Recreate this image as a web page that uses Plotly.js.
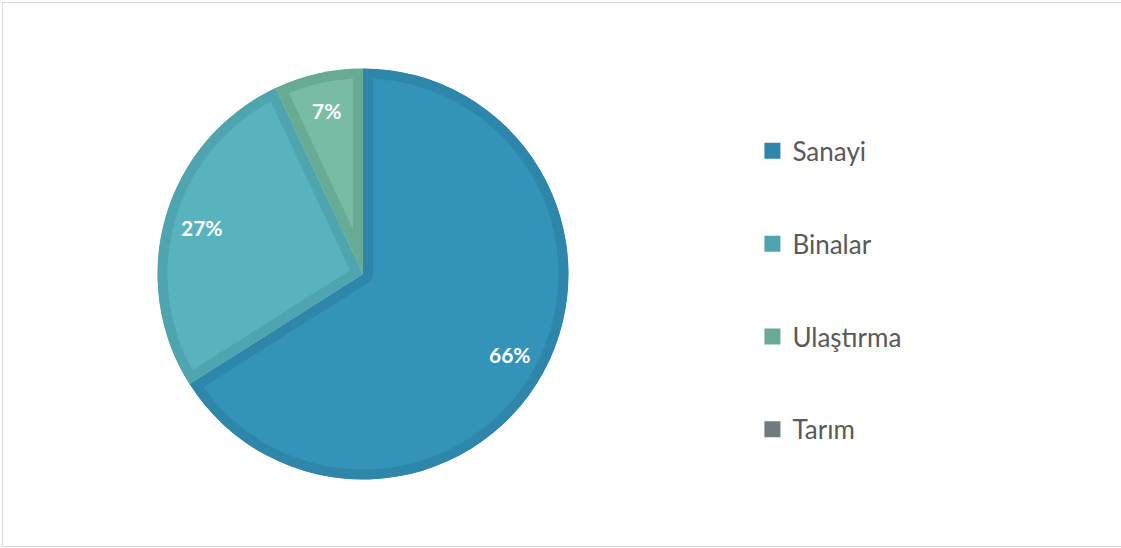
<!DOCTYPE html>
<html><head><meta charset="utf-8">
<script src="https://cdn.plot.ly/plotly-3.0.1.min.js"></script>
<style>
html,body{margin:0;padding:0;background:#fff;}
#wrap{position:relative;width:1121px;height:548px;}
#chart{width:1121px;height:548px;}
#frame{position:absolute;left:2px;top:2px;width:1125px;height:543px;border:1px solid #d9d9d9;pointer-events:none;}
</style></head>
<body>
<div id="wrap"><div id="chart"></div><div id="frame"></div></div>
<script>
// Data
const categories = ["Sanayi", "Binalar", "Ulaştırma", "Tarım"];
const shares = [66, 27, 7, 0];
// Styles
const fillColors = ["#3393b9", "#58b3bf", "#78bca5", "#7a878c"];
const edgeColors = ["#2e86ab", "#4ea5b0", "#68ab95", "#6e7b80"];

const W = 1121, H = 548;
const cx = 363, cy = 274, R = 205.5, edge = 20;

const pie = {
  type: "pie",
  labels: categories,
  values: shares,
  sort: false,
  direction: "clockwise",
  rotation: 0,
  showlegend: false,
  marker: {colors: fillColors, line: {color: edgeColors, width: shares.map(v => v > 0 ? edge : 0)}},
  textinfo: "none",
  hoverinfo: "label+percent",
  domain: {x: [(cx - R) / W, (cx + R) / W], y: [(H - cy - R) / H, (H - cy + R) / H]}
};

// percentage labels placed along each slice's bisector
const total = shares.reduce((a, b) => a + b, 0);
let cum = 0;
const annotations = [];
shares.forEach((v, i) => {
  const mid = (cum + v / 2) / total * 2 * Math.PI;
  cum += v;
  if (v <= 0) return;
  const px = cx + 0.815 * R * Math.sin(mid);
  const py = cy - 0.815 * R * Math.cos(mid);
  annotations.push({
    xref: "paper", yref: "paper", x: px / W, y: 1 - py / H,
    xanchor: "center", yanchor: "middle", showarrow: false,
    text: Math.round(v / total * 100) + "%",
    font: {family: "Lato, 'Open Sans', sans-serif", size: 21, color: "#ffffff", weight: "bold"}
  });
});

const legendTraces = categories.map((c, i) => ({
  type: "scatter", mode: "markers", x: [null], y: [null],
  name: c, legendgroup: "g" + i,
  marker: {symbol: "square", size: 17, color: edgeColors[i], line: {width: 0}},
  hoverinfo: "skip"
}));

const layout = {
  width: W, height: H,
  margin: {l: 0, r: 0, t: 0, b: 0},
  paper_bgcolor: "#ffffff", plot_bgcolor: "#ffffff",
  xaxis: {visible: false}, yaxis: {visible: false},
  showlegend: true,
  annotations: annotations,
  legend: {
    x: 0.6712, xanchor: "left", y: 0.47, yanchor: "middle",
    font: {family: "Lato, 'Open Sans', sans-serif", size: 26, color: "#595959"},
    tracegroupgap: 56, bgcolor: "rgba(0,0,0,0)", itemclick: false, itemdoubleclick: false
  }
};

Plotly.newPlot("chart", [pie, ...legendTraces], layout, {displayModeBar: false, staticPlot: true}).then(gd => {
  // clip each slice's border to the slice itself, so the border sits inside the slice
  const svg = gd.querySelector("svg.main-svg");
  const NS = "http://www.w3.org/2000/svg";
  let defs = svg.querySelector("defs");
  if (!defs) { defs = document.createElementNS(NS, "defs"); svg.insertBefore(defs, svg.firstChild); }
  gd.querySelectorAll(".pielayer .slice path.surface").forEach((p, i) => {
    const d = p.getAttribute("d");
    if (!d) return;
    const cp = document.createElementNS(NS, "clipPath");
    cp.setAttribute("id", "sliceclip" + i);
    const cpath = document.createElementNS(NS, "path");
    cpath.setAttribute("d", d);
    cp.appendChild(cpath);
    defs.appendChild(cp);
    p.setAttribute("clip-path", "url(#sliceclip" + i + ")");
  });
});
</script>
</body></html>
